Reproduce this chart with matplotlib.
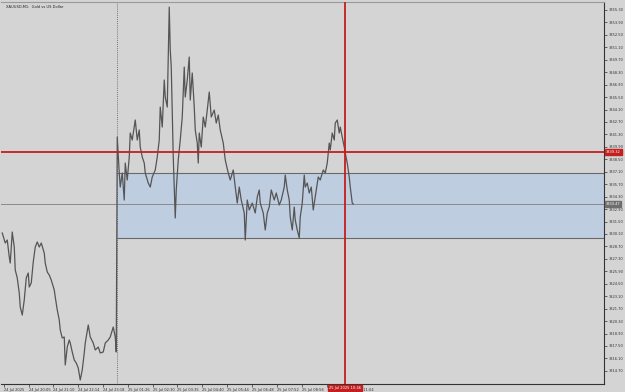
import matplotlib
import matplotlib.pyplot as plt
from matplotlib.patches import Rectangle

matplotlib.use('Agg')

# price path (bar index, price)
bars = [0, 3, 5, 7, 8, 10, 12, 13, 15, 17, 18, 20, 22, 24, 26, 27, 29, 31, 33, 35,
        37, 39, 42, 43, 45, 47, 49, 52, 53, 55, 57, 58, 60, 62, 63, 65, 67, 68, 70, 72,
        74, 76, 78, 80, 82, 83, 86, 88, 91, 93, 96, 98, 101, 103, 106, 108, 111, 113, 114,
        115, 117, 118, 120, 122, 123, 125, 127, 128, 130, 133, 135, 137, 138, 140, 142, 143,
        146, 148, 150, 153, 155, 157, 158, 160, 162, 163, 165, 167, 168, 169, 170, 171, 173,
        174, 176, 178, 180, 182, 183, 185, 187, 188, 190, 192, 193, 195, 196, 197, 199, 201,
        203, 205, 207, 209, 212, 214, 216, 218, 221, 223, 226, 228, 231, 233, 235, 237, 239,
        242, 243, 245, 247, 250, 253, 255, 257, 258, 261, 263, 265, 267, 269, 272, 274, 277,
        279, 282, 283, 285, 287, 288, 290, 292, 293, 295, 297, 298, 300, 302, 303, 305, 307,
        309, 311, 313, 316, 318, 321, 323, 325, 327, 328, 330, 332, 333, 335, 337, 338, 340,
        342, 343, 345, 347, 348, 350, 351]
prices = [3330.21, 3329.08, 3329.42, 3327.51, 3326.83, 3330.32, 3328.63, 3326.05, 3325.15, 3323.46,
          3321.88, 3320.98, 3322.67, 3325.15, 3325.71, 3324.13, 3324.58, 3326.95, 3328.63, 3329.20,
          3328.63, 3329.08, 3327.96, 3326.83, 3325.82, 3325.48, 3324.92, 3323.80, 3323.01, 3321.55,
          3320.42, 3319.30, 3318.40, 3318.51, 3315.36, 3317.38, 3318.17, 3317.83, 3316.82, 3315.92,
          3315.58, 3315.02, 3313.67, 3314.80, 3316.71, 3317.83, 3319.86, 3318.51, 3317.83, 3317.05,
          3317.38, 3316.71, 3316.82, 3317.83, 3318.17, 3318.51, 3319.63, 3318.51, 3316.82,
          3341.01, 3336.96, 3335.38, 3336.96, 3333.92, 3338.08, 3336.17, 3338.76, 3341.46, 3340.67,
          3342.92, 3340.67, 3341.80, 3339.88, 3338.76, 3338.08, 3336.96, 3335.83, 3335.38, 3336.51,
          3337.30, 3338.76, 3340.67, 3344.38, 3342.13, 3347.42, 3345.51, 3344.38, 3355.63, 3350.80,
          3348.88, 3343.71, 3338.76, 3331.90, 3335.05, 3338.42, 3340.67, 3343.26, 3348.88, 3345.51,
          3347.42, 3350.01, 3345.17, 3348.21, 3344.38, 3341.80, 3340.33, 3338.08, 3341.46, 3339.88,
          3343.26, 3342.13, 3344.04, 3346.07, 3343.26, 3344.04, 3342.58, 3343.48, 3341.80, 3340.33,
          3338.42, 3336.96, 3336.17, 3337.30, 3335.38, 3333.58, 3335.38, 3333.92, 3332.46, 3329.42,
          3333.92, 3332.80, 3333.58, 3332.46, 3334.26, 3335.05, 3333.58, 3332.46, 3330.55, 3332.46,
          3333.13, 3335.05, 3333.92, 3334.71, 3333.36, 3333.92, 3335.38, 3336.73, 3335.05, 3333.92,
          3332.01, 3330.55, 3333.13, 3331.67, 3330.55, 3329.65, 3332.01, 3333.58, 3336.73, 3335.38,
          3335.83, 3334.71, 3335.38, 3332.80, 3334.26, 3336.51, 3336.17, 3337.30, 3336.96, 3338.08,
          3340.33, 3339.55, 3341.46, 3340.67, 3342.58, 3342.92, 3341.46, 3342.13, 3341.01, 3339.88,
          3339.21, 3338.08, 3336.51, 3335.38, 3333.58, 3333.47]

price_ticks = [3355.30, 3353.90, 3352.50, 3351.10, 3349.70, 3348.30, 3346.90, 3345.50, 3344.10,
               3342.70, 3341.30, 3339.90, 3338.50, 3337.10, 3335.70, 3334.30, 3332.90, 3331.50,
               3330.10, 3328.70, 3327.30, 3325.90, 3324.50, 3323.10, 3321.70, 3320.30, 3318.90,
               3317.50, 3316.10, 3314.70]

time_ticks = [2, 27, 51, 76, 101, 126, 151, 175, 200, 225, 250, 275, 300, 325, 350]
time_labels = ["24 Jul 2025", "24 Jul 20:05", "24 Jul 21:10", "24 Jul 22:14", "24 Jul 23:18",
               "25 Jul 01:26", "25 Jul 02:30", "25 Jul 03:35", "25 Jul 04:40", "25 Jul 05:44",
               "25 Jul 06:48", "25 Jul 07:52", "25 Jul 08:56", "25 Jul 10:00", "25 Jul 11:04"]

day_separator = 115
zone_start = 115
zone_top = 3336.96
zone_bottom = 3329.65
red_price = 3339.32
red_bar = 343
red_time = "25 Jul 2025 10:46"
last_price = 3333.47

bg = '#d4d4d4'
red = '#c41e1e'
fs = 2.6

fig = plt.figure(figsize=(6.25, 3.92), dpi=100, facecolor=bg)
ax = fig.add_axes([0.002, 1 - 384 / 392, 603 / 625, 382 / 392])
ax.set_facecolor(bg)
ax.set_xlim(-1, 602)
ax.set_ylim(3313.22, 3356.20)

# blue zone
ax.add_patch(Rectangle((zone_start, zone_bottom), 700, zone_top - zone_bottom,
                       facecolor='#bfcde0', edgecolor='none', zorder=1))
ax.axhline(zone_top, xmin=(zone_start + 1) / 603, color='#6a6a6a', lw=0.8, zorder=2)
ax.axhline(zone_bottom, xmin=(zone_start + 1) / 603, color='#6a6a6a', lw=0.8, zorder=2)

ax.axvline(day_separator, color='#555555', lw=0.6, ls=(0, (1, 1.5)), zorder=2)
ax.axhline(last_price, color='#8a8a8a', lw=0.7, zorder=2)

ax.plot(bars, prices, color='#555555', lw=0.9, zorder=3)

ax.axhline(red_price, color=red, lw=1.3, zorder=4)
ax.axvline(red_bar, color=red, lw=1.3, zorder=4)

ax.text(4, 3355.6, "XAUUSD,M1:  Gold vs US Dollar", fontsize=fs, color='#222222',
        va='center', ha='left')

# axes styling
ax.spines['left'].set_visible(False)
ax.spines['top'].set_color('#9a9a9a')
ax.spines['right'].set_color('#333333')
ax.spines['bottom'].set_color('#333333')
for s in ['top', 'right', 'bottom']:
    ax.spines[s].set_linewidth(0.8)

ax.yaxis.tick_right()
ax.set_yticks(price_ticks)
ax.set_yticklabels([f"{p:.2f}" for p in price_ticks])
ax.tick_params(axis='y', direction='out', length=2, width=0.5, pad=1,
               labelsize=fs, colors='#333333')
ax.set_xticks(time_ticks)
ax.set_xticklabels(time_labels, ha='left')
ax.tick_params(axis='x', direction='out', length=2, width=0.5, pad=0.8,
               labelsize=fs, colors='#333333')
# the 10:00 label sits under the red time box
ax.get_xticklabels()[13].set_visible(False)

# right-axis price boxes
ax.annotate(f"{red_price:.2f}", xy=(1, red_price), xycoords=('axes fraction', 'data'),
            xytext=(1.2, 0), textcoords='offset points', ha='left', va='center',
            fontsize=fs, color='white', annotation_clip=False, zorder=10,
            bbox=dict(boxstyle='square,pad=0.25', fc=red, ec=red))
ax.annotate(f"{last_price:.2f}", xy=(1, last_price), xycoords=('axes fraction', 'data'),
            xytext=(1.2, 0), textcoords='offset points', ha='left', va='center',
            fontsize=fs, color='white', annotation_clip=False, zorder=10,
            bbox=dict(boxstyle='square,pad=0.25', fc='#6e6e6e', ec='#6e6e6e'))
# time box under the vertical line
ax.annotate(red_time, xy=(red_bar, 0), xycoords=('data', 'axes fraction'),
            xytext=(0, -1.2), textcoords='offset points', ha='center', va='top',
            fontsize=fs, color='white', annotation_clip=False, zorder=10,
            bbox=dict(boxstyle='square,pad=0.25', fc=red, ec=red))

fig.savefig('out.png', dpi=100, facecolor=bg)
plt.close(fig)
